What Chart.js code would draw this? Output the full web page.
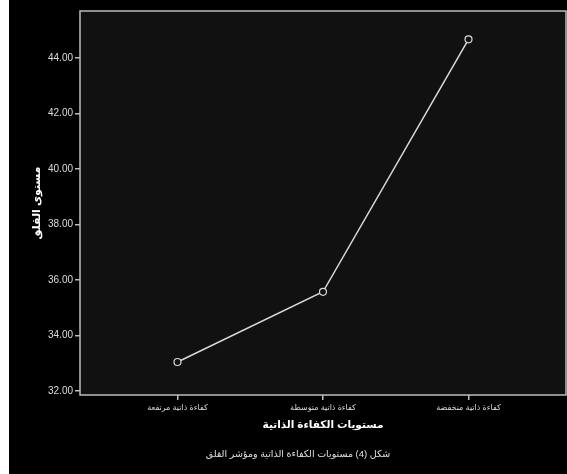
<!DOCTYPE html>
<html>
<head>
<meta charset="utf-8">
<script src="https://cdn.jsdelivr.net/npm/chart.js@4/dist/chart.umd.min.js"></script>
<style>
  html, body { margin: 0; padding: 0; background: #fff; }
  #wrap { position: absolute; left: 9px; top: 0; width: 558px; height: 474px; background: #000; }
</style>
</head>
<body>
<div id="wrap"><canvas id="lineChart" width="558" height="474"></canvas></div>
<script>
// data
const levels = ["كفاءة ذاتية مرتفعة", "كفاءة ذاتية متوسطة", "كفاءة ذاتية منخفضة"];
const anxiety = [33.05, 35.58, 44.68];
const yTicks = [32, 34, 36, 38, 40, 42, 44];
const xTitle = "مستويات الكفاءة الذاتية";
const yTitle = "مستوى القلق";
const caption = "شكل (4) مستويات الكفاءة الذاتية ومؤشر القلق";

const fnt = "'Liberation Sans', 'DejaVu Sans', Arial, sans-serif";

// plot area fill + frame
const plotBg = {
  id: 'plotBg',
  beforeDraw(chart) {
    const { ctx, chartArea: a } = chart;
    ctx.save();
    ctx.fillStyle = '#111111';
    ctx.fillRect(a.left, a.top, a.right - a.left, a.bottom - a.top);
    ctx.restore();
  },
  afterDatasetsDraw(chart) {
    const { ctx, chartArea: a } = chart;
    ctx.save();
    ctx.strokeStyle = '#bdbdbd';
    ctx.lineWidth = 1.5;
    ctx.strokeRect(a.left, a.top, a.right - a.left, a.bottom - a.top);
    ctx.restore();
  }
};

const pts = anxiety.map((v, i) => ({ x: i + 1, y: v }));

new Chart(document.getElementById('lineChart'), {
  type: 'line',
  data: {
    datasets: [{
      data: pts,
      borderColor: '#d9d9d9',
      borderWidth: 1.5,
      pointRadius: 3.5,
      pointBorderWidth: 1.2,
      pointBorderColor: '#d9d9d9',
      pointBackgroundColor: '#111111',
      tension: 0
    }]
  },
  options: {
    responsive: false,
    animation: false,
    layout: { autoPadding: false, padding: { left: 21, top: 11, right: 1, bottom: 0 } },
    plugins: {
      legend: { display: false },
      tooltip: { enabled: false },
      title: {
        display: true,
        position: 'bottom',
        text: caption,
        color: '#e0e0e0',
        padding: { top: 14, bottom: 13.6 },
        font: { family: fnt, size: 9.5, weight: 'normal' }
      }
    },
    scales: {
      x: {
        type: 'linear',
        min: 0.33,
        max: 3.67,
        afterBuildTicks: (s) => { s.ticks = levels.map((_, i) => ({ value: i + 1 })); },
        afterFit: (s) => { s.height = 40; s.paddingLeft = 0; s.paddingRight = 0; },
        border: { display: false },
        grid: { drawOnChartArea: false, color: '#bdbdbd', tickLength: 5, lineWidth: 1.5 },
        ticks: {
          color: '#dddddd',
          padding: 3,
          maxRotation: 0,
          font: { family: fnt, size: 8 },
          callback: (v) => levels[v - 1]
        },
        title: {
          display: true,
          text: xTitle,
          color: '#ffffff',
          padding: { top: 4, bottom: 4 },
          font: { family: fnt, size: 10.5, weight: 'bold' }
        }
      },
      y: {
        min: 31.86,
        max: 45.7,
        afterBuildTicks: (s) => { s.ticks = yTicks.map(v => ({ value: v })); },
        afterFit: (s) => { s.width = 50; s.paddingTop = 0; s.paddingBottom = 0; },
        border: { display: false },
        grid: { drawOnChartArea: false, color: '#bdbdbd', tickLength: 5, lineWidth: 1.5 },
        ticks: {
          color: '#dddddd',
          padding: 2,
          font: { family: fnt, size: 10 },
          callback: (v) => v.toFixed(2)
        },
        title: {
          display: true,
          text: yTitle,
          color: '#ffffff',
          padding: { top: 0, bottom: 4 },
          font: { family: fnt, size: 11, weight: 'bold' }
        }
      }
    }
  },
  plugins: [plotBg]
});
</script>
</body>
</html>
